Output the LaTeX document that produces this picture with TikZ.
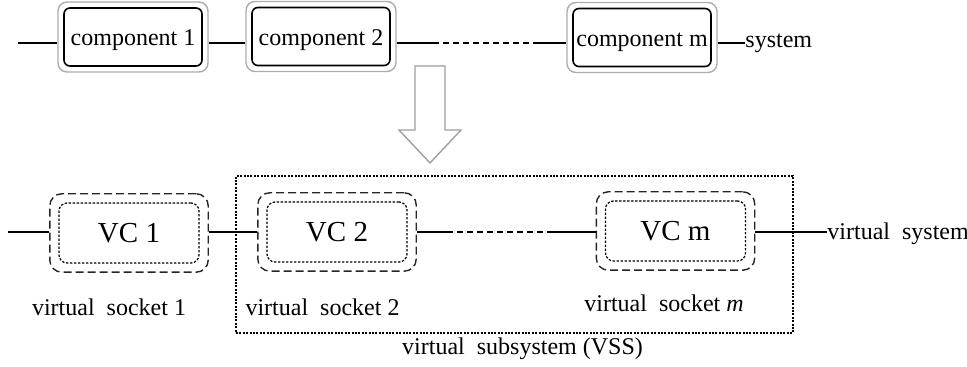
\documentclass[tikz,border=0pt]{standalone}
\usepackage{fontspec}
\setmainfont{Liberation Serif}
\usetikzlibrary{fit}
\tikzset{
  comp/.style={draw,line width=0.8pt,rounded corners=3pt,minimum width=69pt,minimum height=29pt,
    inner sep=0pt,text height=0.9em,text depth=0pt,font=\fontsize{12}{14}\selectfont},
  compframe/.style={draw=gray!65,line width=0.7pt,rounded corners=4.5pt,inner sep=2.6pt},
  vc/.style={draw,dash pattern=on 1.2pt off 0.8pt,line width=0.6pt,rounded corners=4pt,
    minimum width=70pt,minimum height=30pt,inner sep=0pt,font=\fontsize{14.5}{17}\selectfont},
  socket/.style={draw=black!85,dash pattern=on 4pt off 2pt,line width=0.7pt,rounded corners=6pt,inner sep=4.3pt},
  vssbox/.style={draw,dash pattern=on 1pt off 0.7pt,line width=1.1pt,minimum width=278.5pt,minimum height=78.5pt,inner sep=0pt},
  lbl/.style={font=\fontsize{12}{14}\selectfont,inner sep=0pt},
  wire/.style={line width=0.7pt},
  gap/.style={line width=0.7pt,dash pattern=on 3pt off 2pt},
  bigarrow/.style={draw=gray!75,line width=0.7pt,fill=white}
}
\begin{document}
\begin{tikzpicture}[x=0.5pt,y=-0.5pt]
  \useasboundingbox (0,0) rectangle (967,367);
  \node[comp] (c1) at (133,37) {component 1};
  \node[comp] (c2) at (321,36.5) {component 2};
  \node[comp] (cm) at (642,37.5) {component m};
  \node[compframe,fit=(c1)] (f1) {};
  \node[compframe,fit=(c2)] (f2) {};
  \node[compframe,fit=(cm)] (fm) {};
  \coordinate (t0) at (18,43);
  \coordinate (t1) at (433,43);
  \coordinate (t2) at (533,43);
  \coordinate (t3) at (745,43);
  \node[lbl,anchor=west] (sys) at (t3) {system};
  \begin{scope}[wire]
    \draw (t0) -- (f1.west |- t0);
    \draw (f1.east |- t0) -- (f2.west |- t0);
    \draw (f2.east |- t0) -- (t1);
    \draw[gap] (t1) -- (t2);
    \draw (t2) -- (fm.west |- t0);
    \draw (fm.east |- t0) -- (t3);
  \end{scope}
  \draw[bigarrow] (415,66) -- (445,66) -- (445,130) -- (461,130) -- (430,163)
    -- (399,130) -- (415,130) -- cycle;
  \node[vssbox] (vss) at (514.5,254.5) {};
  \node[vc] (v1) at (129,233) {VC 1};
  \node[vc] (v2) at (337,232) {VC 2};
  \node[vc] (vm) at (675.5,231) {VC m};
  \node[socket,fit=(v1)] (s1) {};
  \node[socket,fit=(v2)] (s2) {};
  \node[socket,fit=(vm)] (sm) {};
  \coordinate (b0) at (8,232);
  \coordinate (b1) at (447,232);
  \coordinate (b2) at (552,232);
  \coordinate (b3) at (827,232);
  \node[lbl,anchor=west] (vsys) at ([yshift=-1pt]b3) {virtual\ \ system};
  \begin{scope}[wire]
    \draw (b0) -- (s1.west |- b0);
    \draw (s1.east |- b0) -- (s2.west |- b0);
    \draw (s2.east |- b0) -- (b1);
    \draw[gap] (b1) -- (b2);
    \draw (b2) -- (sm.west |- b0);
    \draw (sm.east |- b0) -- (b3);
  \end{scope}
  \node[lbl] (l1) at (109,307) {virtual\ \ socket 1};
  \node[lbl] (l2) at (322.5,307) {virtual\ \ socket 2};
  \node[lbl] (lm) at (664,303) {virtual\ \ socket \textit{m}};
  \node[lbl] (lvss) at (522.5,349) {virtual\ \ subsystem (VSS)};
\end{tikzpicture}
\end{document}
